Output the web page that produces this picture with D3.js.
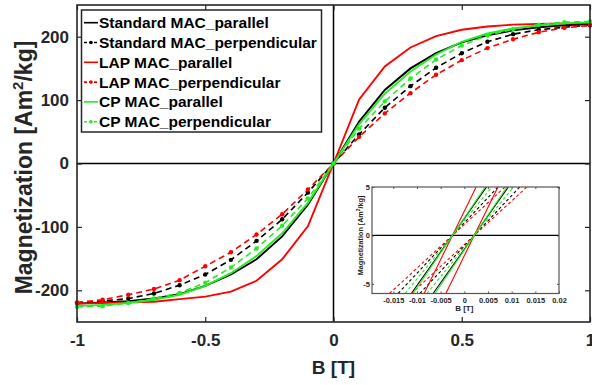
<!DOCTYPE html>
<html>
<head>
<meta charset="utf-8">
<script src="https://cdn.jsdelivr.net/npm/d3@7"></script>
<style>
  body { margin: 0; background: #fff; }
  text { font-family: "Liberation Sans", Arial, sans-serif; }
</style>
</head>
<body>
<div id="chart"></div>
<script>
// field values (T), one point every 0.1 T
const bValues = [-1, -0.9, -0.8, -0.7, -0.6, -0.5, -0.4, -0.3, -0.2, -0.1, 0,
  0.1, 0.2, 0.3, 0.4, 0.5, 0.6, 0.7, 0.8, 0.9, 1];

const seriesNames = ["Standard MAC_parallel", "Standard MAC_perpendicular", "LAP MAC_parallel",
  "LAP MAC_perpendicular", "CP MAC_parallel", "CP MAC_perpendicular"];
const seriesColors = ["#000000", "#000000", "#ff0000", "#ff0000", "#22ee22", "#22ee22"];
const seriesDashed = [false, true, false, true, false, true];

// magnetization (Am2/kg)
const stdPar  = [-221, -219, -217, -213, -206, -193, -175, -151, -115, -65, 0, 66, 116, 150, 174, 191, 202, 210, 215, 218, 220];
const stdPerp = [-220, -217, -213, -205, -192, -175, -152, -122, -88, -46, 0, 46, 88, 122, 151, 174, 192, 204, 211, 215, 218];
const lapPar  = [-221, -220, -219, -218, -214, -210, -202, -185, -151, -99, 0, 101, 153, 183, 201, 211, 216, 219, 220, 221, 221];
const lapPerp = [-219, -215, -207, -198, -184, -162, -140, -112, -80, -41, 0, 42, 79, 111, 140, 163, 182, 196, 207, 214, 218];
const cpPar   = [-225, -223, -220, -215, -207, -193, -173, -146, -110, -62, 0, 62, 110, 145, 172, 192, 205, 213, 218, 221, 223];
const cpPerp  = [-226, -225, -220, -213, -204, -188, -164, -134, -98, -55, 0, 55, 98, 134, 164, 186, 202, 212, 219, 223, 224];
const mainSeries = [stdPar, stdPerp, lapPar, lapPerp, cpPar, cpPerp];

// inset: both loop branches near the origin, [B, M] end points
const insetStdPar  = [[[-0.0112, -6], [0.0047, 5]], [[-0.0066, -6], [0.0093, 5]]];
const insetStdPerp = [[[-0.0140, -6], [0.0071, 5]], [[-0.0094, -6], [0.0117, 5]]];
const insetLapPar  = [[[-0.0085, -6], [0.0025, 5]], [[-0.0039, -6], [0.0071, 5]]];
const insetLapPerp = [[[-0.0158, -6], [0.0086, 5]], [[-0.0112, -6], [0.0132, 5]]];
const insetCpPar   = [[[-0.0108, -6], [0.0044, 5]], [[-0.0062, -6], [0.0090, 5]]];
const insetCpPerp  = [[[-0.0125, -6], [0.0058, 5]], [[-0.0079, -6], [0.0104, 5]]];
const insetSeries = [insetStdPar, insetStdPerp, insetLapPar, insetLapPerp, insetCpPar, insetCpPerp];

const xTicks = [-1, -0.5, 0, 0.5, 1];
const yTicks = [-200, -100, 0, 100, 200];
const insetXTicks = [-0.015, -0.01, -0.005, 0, 0.005, 0.01, 0.015, 0.02];
const insetYTicks = [-5, 0, 5];

const width = 592;
const height = 385;
const axisColor = "#262626";
const plain = (d) => String(d); // plain hyphen minus like MATLAB

const svg = d3.select("#chart")
  .append("svg")
  .attr("width", width)
  .attr("height", height)
  .style("background", "#fff");

const margin = { top: 5, right: 2, bottom: 63, left: 77 };
const innerWidth = width - margin.left - margin.right;
const innerHeight = height - margin.top - margin.bottom;

const xScale = d3.scaleLinear().domain([-1, 1]).range([margin.left, margin.left + innerWidth]);
const yScale = d3.scaleLinear().domain([-250, 250]).range([margin.top + innerHeight, margin.top]);

// zero lines
svg.append("line")
  .attr("x1", xScale(0)).attr("x2", xScale(0))
  .attr("y1", yScale(250)).attr("y2", yScale(-250))
  .attr("stroke", "#000").attr("stroke-width", 1.5);
svg.append("line")
  .attr("x1", xScale(-1)).attr("x2", xScale(1))
  .attr("y1", yScale(0)).attr("y2", yScale(0))
  .attr("stroke", "#000").attr("stroke-width", 1.5);

// curves
const line = d3.line()
  .x((d, i) => xScale(bValues[i]))
  .y((d) => yScale(d));

mainSeries.forEach((vals, k) => {
  svg.append("path")
    .datum(vals)
    .attr("d", line)
    .attr("fill", "none")
    .attr("stroke", seriesColors[k])
    .attr("stroke-width", seriesDashed[k] ? 1.6 : 1.9)
    .attr("stroke-dasharray", seriesDashed[k] ? "6,4" : null);
  if (seriesDashed[k]) {
    svg.append("g")
      .selectAll("circle")
      .data(vals)
      .enter()
      .append("circle")
      .attr("cx", (d, i) => xScale(bValues[i]))
      .attr("cy", (d) => yScale(d))
      .attr("r", 2.2)
      .attr("fill", seriesColors[k]);
  }
});

// axes (MATLAB style, ticks inside on all sides)
const tickSize = 5;
svg.append("g")
  .attr("transform", `translate(0,${yScale(-250)})`)
  .call(d3.axisBottom(xScale).tickValues(xTicks).tickSize(-tickSize).tickPadding(12).tickFormat(plain))
  .call((g) => g.select(".domain").remove());
svg.append("g")
  .attr("transform", `translate(0,${yScale(250)})`)
  .call(d3.axisTop(xScale).tickValues(xTicks).tickSize(-tickSize).tickFormat(""))
  .call((g) => g.select(".domain").remove());
svg.append("g")
  .attr("transform", `translate(${xScale(-1)},0)`)
  .call(d3.axisLeft(yScale).tickValues(yTicks).tickSize(-tickSize).tickPadding(8).tickFormat(plain))
  .call((g) => g.select(".domain").remove());
svg.append("g")
  .attr("transform", `translate(${xScale(1)},0)`)
  .call(d3.axisRight(yScale).tickValues(yTicks).tickSize(-tickSize).tickFormat(""))
  .call((g) => g.select(".domain").remove());

svg.selectAll(".tick line").attr("stroke", axisColor).attr("stroke-width", 1.2);
svg.selectAll(".tick text")
  .attr("fill", axisColor)
  .style("font-size", "17px")
  .style("font-weight", "bold");

svg.append("rect")
  .attr("x", xScale(-1)).attr("y", yScale(250))
  .attr("width", xScale(1) - xScale(-1))
  .attr("height", yScale(-250) - yScale(250))
  .attr("fill", "none")
  .attr("stroke", axisColor)
  .attr("stroke-width", 1.6);

// axis labels
svg.append("text")
  .attr("x", xScale(0))
  .attr("y", 374)
  .attr("text-anchor", "middle")
  .attr("fill", axisColor)
  .style("font-size", "19px")
  .style("font-weight", "bold")
  .text("B [T]");

const yLabel = svg.append("text")
  .attr("transform", `translate(32,${yScale(0) + 4}) rotate(-90)`)
  .attr("text-anchor", "middle")
  .attr("fill", axisColor)
  .style("font-size", "23px")
  .style("font-weight", "bold");
yLabel.append("tspan").text("Magnetization [Am");
yLabel.append("tspan").attr("dy", -9).style("font-size", "15px").text("2");
yLabel.append("tspan").attr("dy", 9).text("/kg]");

// legend
const legend = svg.append("g");
legend.append("rect")
  .attr("x", 81.5).attr("y", 10)
  .attr("width", 240).attr("height", 122)
  .attr("fill", "#fff")
  .attr("stroke", axisColor)
  .attr("stroke-width", 1.5);

seriesNames.forEach((name, k) => {
  const y = 22.7 + k * 19.8;
  legend.append("line")
    .attr("x1", 84).attr("x2", 98)
    .attr("y1", y).attr("y2", y)
    .attr("stroke", seriesColors[k])
    .attr("stroke-width", 1.6)
    .attr("stroke-dasharray", seriesDashed[k] ? "3,2" : null);
  if (seriesDashed[k]) {
    legend.append("circle")
      .attr("cx", 91).attr("cy", y).attr("r", 1.8)
      .attr("fill", seriesColors[k]);
  }
  legend.append("text")
    .attr("x", 99)
    .attr("y", y + 5.5)
    .attr("fill", "#000")
    .style("font-size", "15.5px")
    .style("font-weight", "bold")
    .text(name);
});

// inset
const ix = d3.scaleLinear().domain([-0.0195, 0.02]).range([372, 559]);
const iy = d3.scaleLinear().domain([-6, 5]).range([293.5, 187]);

const inset = svg.append("g");
inset.append("rect")
  .attr("x", ix(-0.0195)).attr("y", iy(5))
  .attr("width", ix(0.02) - ix(-0.0195))
  .attr("height", iy(-6) - iy(5))
  .attr("fill", "#fff");

svg.append("clipPath")
  .attr("id", "insetClip")
  .append("rect")
  .attr("x", ix(-0.0195)).attr("y", iy(5))
  .attr("width", ix(0.02) - ix(-0.0195))
  .attr("height", iy(-6) - iy(5));

inset.append("line")
  .attr("x1", ix(-0.0195)).attr("x2", ix(0.02))
  .attr("y1", iy(0)).attr("y2", iy(0))
  .attr("stroke", "#000").attr("stroke-width", 1.2);

const insetLine = d3.line().x((d) => ix(d[0])).y((d) => iy(d[1]));
const insetLines = inset.append("g").attr("clip-path", "url(#insetClip)");
insetSeries.forEach((branches, k) => {
  branches.forEach((pts) => {
    insetLines.append("path")
      .datum(pts)
      .attr("d", insetLine)
      .attr("fill", "none")
      .attr("stroke", seriesColors[k])
      .attr("stroke-width", 1.1)
      .attr("stroke-dasharray", seriesDashed[k] ? "3,2.5" : null);
  });
});

const iTick = 2;
inset.append("g")
  .attr("transform", `translate(0,${iy(-6)})`)
  .call(d3.axisBottom(ix).tickValues(insetXTicks).tickSize(-iTick).tickPadding(4).tickFormat(plain))
  .call((g) => g.select(".domain").remove());
inset.append("g")
  .attr("transform", `translate(0,${iy(5)})`)
  .call(d3.axisTop(ix).tickValues(insetXTicks).tickSize(-iTick).tickFormat(""))
  .call((g) => g.select(".domain").remove());
inset.append("g")
  .attr("transform", `translate(${ix(-0.0195)},0)`)
  .call(d3.axisLeft(iy).tickValues(insetYTicks).tickSize(-iTick).tickPadding(2).tickFormat(plain))
  .call((g) => g.select(".domain").remove());
inset.append("g")
  .attr("transform", `translate(${ix(0.02)},0)`)
  .call(d3.axisRight(iy).tickValues(insetYTicks).tickSize(-iTick).tickFormat(""))
  .call((g) => g.select(".domain").remove());

inset.selectAll(".tick line").attr("stroke", axisColor).attr("stroke-width", 0.8);
inset.selectAll(".tick text")
  .attr("fill", axisColor)
  .style("font-size", "7.5px")
  .style("font-weight", "bold");

inset.append("rect")
  .attr("x", ix(-0.0195)).attr("y", iy(5))
  .attr("width", ix(0.02) - ix(-0.0195))
  .attr("height", iy(-6) - iy(5))
  .attr("fill", "none")
  .attr("stroke", "#555")
  .attr("stroke-width", 1.2);

inset.append("text")
  .attr("x", ix(0))
  .attr("y", 311)
  .attr("text-anchor", "middle")
  .attr("fill", axisColor)
  .style("font-size", "8px")
  .style("font-weight", "bold")
  .text("B [T]");

const iLabel = inset.append("text")
  .attr("transform", `translate(363,${iy(0)}) rotate(-90)`)
  .attr("text-anchor", "middle")
  .attr("fill", axisColor)
  .style("font-size", "7.2px")
  .style("font-weight", "bold");
iLabel.append("tspan").text("Magnetization [Am");
iLabel.append("tspan").attr("dy", -3).style("font-size", "5px").text("2");
iLabel.append("tspan").attr("dy", 3).text("/kg]");
</script>
</body>
</html>
